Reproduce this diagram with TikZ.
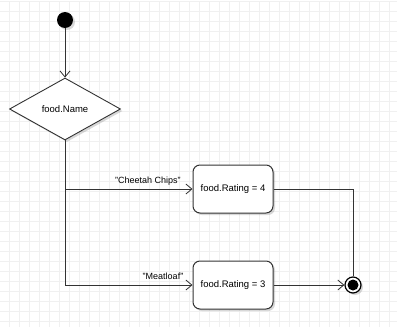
\documentclass[tikz,border=0pt]{standalone}
\usepackage{fontspec}
\setmainfont{Liberation Sans}
\usetikzlibrary{arrows.meta,shapes.geometric,shadows}
\definecolor{gridc}{HTML}{F0F0F0}
\definecolor{linec}{HTML}{333333}
\tikzset{
  every node/.style={font=\fontsize{9.5}{11}\selectfont},
  shad/.style={drop shadow={opacity=0.25,shadow xshift=2pt,shadow yshift=-2pt,fill=black!60}},
  actbox/.style={draw=linec,line width=1pt,rounded corners=7pt,fill=white,minimum width=80pt,minimum height=48pt,inner sep=0pt,shad},
  decbox/.style={draw=linec,line width=0.9pt,diamond,aspect=1.8,fill=white,minimum width=111pt,minimum height=62pt,inner sep=0pt,shad},
  flow/.style={draw=linec,line width=0.8pt,-{Straight Barb[length=6pt,width=10pt,line width=0.8pt]}},
  plain/.style={draw=linec,line width=0.8pt},
  lbl/.style={inner sep=0pt,font=\fontsize{9}{11}\selectfont}
}
\begin{document}
\begin{tikzpicture}[x=1pt,y=-1pt]
\fill[white] (0,0) rectangle (397,327);
\useasboundingbox (0,0) rectangle (397,327);
\draw[gridc,line width=0.6pt,step=10pt,shift={(-1pt,-1pt)}] (0,0) grid (400,330);
\node[circle,fill=black,minimum size=16pt,inner sep=0pt,shad] (start) at (65,20) {};
\node[decbox] (dec) at (65,109) {food.Name};
\node[actbox] (r4) at (233,189) {food.Rating = 4};
\node[actbox] (r3) at (233,285) {food.Rating = 3};
\node[circle,draw=black,line width=1.2pt,fill=white,minimum size=16pt,inner sep=0pt,shad] (end) at (353,285) {};
\node[circle,fill=black,minimum size=11pt,inner sep=0pt] (endin) at (end) {};
\coordinate (b1) at (65,189);
\coordinate (b2) at (65,285);
\coordinate (c1) at (353,189);
\draw[flow] (start) -- (dec.north);
\draw[plain] (dec.south) -- (b2);
\draw[flow] (b1) -- (r4.west);
\draw[flow] (b2) -- (r3.west);
\draw[plain] (r4.east) -- (c1) -- (end.north);
\draw[flow] (r3.east) -- (end.west);
\node[lbl] (l1) at (148,181) {"Cheetah Chips"};
\node[lbl] (l2) at (163,276) {"Meatloaf"};
\end{tikzpicture}
\end{document}
